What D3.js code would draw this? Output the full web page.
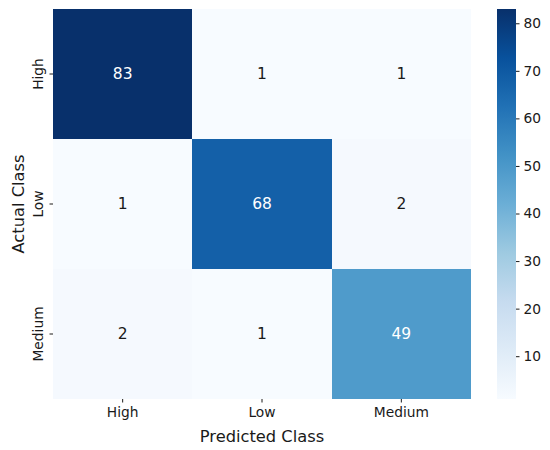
<!DOCTYPE html>
<html>
<head>
<meta charset="utf-8">
<script src="https://cdn.jsdelivr.net/npm/d3@7"></script>
<style>
  body { margin: 0; background: #fff; }
  svg, svg text { font-family: "DejaVu Sans", sans-serif; }
</style>
</head>
<body>
<div id="chart"></div>
<script>
// confusion matrix values, rows = actual, columns = predicted
var classes = ["High", "Low", "Medium"];
var matrix = [
  [83, 1, 1],
  [1, 68, 2],
  [2, 1, 49]
];
var colorTicks = [10, 20, 30, 40, 50, 60, 70, 80];
var blues = ["#f7fbff", "#deebf7", "#c6dbef", "#9ecae1", "#6baed6",
             "#4292c6", "#2171b5", "#08519c", "#08306b"];

var width = 550, height = 450;
var plot = { left: 53, top: 9, right: 471, bottom: 399 };
var bar = { left: 497, right: 516 };
var ink = "#1a1a1a";

var flat = [].concat.apply([], matrix);
var vmin = d3.min(flat), vmax = d3.max(flat);

var color = d3.scaleLinear()
  .domain(d3.range(blues.length).map(function(i) { return vmin + (vmax - vmin) * i / (blues.length - 1); }))
  .range(blues)
  .interpolate(d3.interpolateRgb);

var x = d3.scaleBand().domain(classes).range([plot.left, plot.right]);
var y = d3.scaleBand().domain(classes).range([plot.top, plot.bottom]);

var svg = d3.select("#chart").append("svg")
  .attr("width", width)
  .attr("height", height);

var cells = [];
matrix.forEach(function(row, i) {
  row.forEach(function(v, j) {
    cells.push({ actual: classes[i], predicted: classes[j], value: v });
  });
});

svg.selectAll("rect.cell")
  .data(cells)
  .enter()
  .append("rect")
  .attr("class", "cell")
  .attr("x", function(d) { return x(d.predicted); })
  .attr("y", function(d) { return y(d.actual); })
  .attr("width", x.bandwidth())
  .attr("height", y.bandwidth())
  .attr("shape-rendering", "crispEdges")
  .style("fill", function(d) { return color(d.value); });

// relative luminance, same rule seaborn uses to pick the annotation colour
function luminance(c) {
  var rgb = [c.r, c.g, c.b].map(function(v) {
    v = v / 255;
    return v <= 0.03928 ? v / 12.92 : Math.pow((v + 0.055) / 1.055, 2.4);
  });
  return 0.2126 * rgb[0] + 0.7152 * rgb[1] + 0.0722 * rgb[2];
}

svg.selectAll("text.annot")
  .data(cells)
  .enter()
  .append("text")
  .attr("class", "annot")
  .attr("x", function(d) { return x(d.predicted) + x.bandwidth() / 2; })
  .attr("y", function(d) { return y(d.actual) + y.bandwidth() / 2; })
  .attr("text-anchor", "middle")
  .attr("dominant-baseline", "central")
  .style("font-size", "15.5px")
  .style("fill", function(d) {
    return luminance(d3.rgb(color(d.value))) > 0.408 ? ink : "#ffffff";
  })
  .text(function(d) { return d.value; });

// x axis
var xAxis = svg.append("g")
  .attr("transform", "translate(0," + plot.bottom + ")")
  .call(d3.axisBottom(x).tickSize(3.5).tickPadding(5));
xAxis.attr("font-family", null).attr("font-size", null);
xAxis.select(".domain").remove();
xAxis.selectAll("text").style("font-size", "13.8px").style("fill", ink);
xAxis.selectAll("line").style("stroke", ink);

// y axis
var yAxis = svg.append("g")
  .attr("transform", "translate(" + plot.left + ",0)")
  .call(d3.axisLeft(y).tickSize(3.5).tickPadding(5));
yAxis.attr("font-family", null).attr("font-size", null);
yAxis.select(".domain").remove();
yAxis.selectAll("line").style("stroke", ink);
yAxis.selectAll("text")
  .style("font-size", "13.8px")
  .style("fill", ink)
  .attr("x", null)
  .attr("dy", null)
  .attr("text-anchor", "middle")
  .attr("transform", "translate(-10,0) rotate(-90)");

svg.append("text")
  .attr("x", (plot.left + plot.right) / 2)
  .attr("y", 442)
  .attr("text-anchor", "middle")
  .style("font-size", "16.3px")
  .style("fill", ink)
  .text("Predicted Class");

svg.append("text")
  .attr("transform", "translate(24," + (plot.top + plot.bottom) / 2 + ") rotate(-90)")
  .attr("text-anchor", "middle")
  .style("font-size", "16.3px")
  .style("fill", ink)
  .text("Actual Class");

// colorbar
var cy = d3.scaleLinear().domain([vmin, vmax]).range([plot.bottom, plot.top]);
var defs = svg.append("defs");
var grad = defs.append("linearGradient")
  .attr("id", "cbar")
  .attr("x1", 0).attr("y1", 1).attr("x2", 0).attr("y2", 0);
grad.selectAll("stop")
  .data(blues)
  .enter()
  .append("stop")
  .attr("offset", function(d, i) { return i / (blues.length - 1); })
  .attr("stop-color", function(d) { return d; });

svg.append("rect")
  .attr("x", bar.left)
  .attr("y", plot.top)
  .attr("width", bar.right - bar.left)
  .attr("height", plot.bottom - plot.top)
  .style("fill", "url(#cbar)");

var cAxis = svg.append("g")
  .attr("transform", "translate(" + bar.right + ",0)")
  .call(d3.axisRight(cy).tickValues(colorTicks).tickSize(3.5).tickPadding(4));
cAxis.attr("font-family", null).attr("font-size", null);
cAxis.select(".domain").remove();
cAxis.selectAll("text").style("font-size", "13.8px").style("fill", ink);
cAxis.selectAll("line").style("stroke", ink);
</script>
</body>
</html>
